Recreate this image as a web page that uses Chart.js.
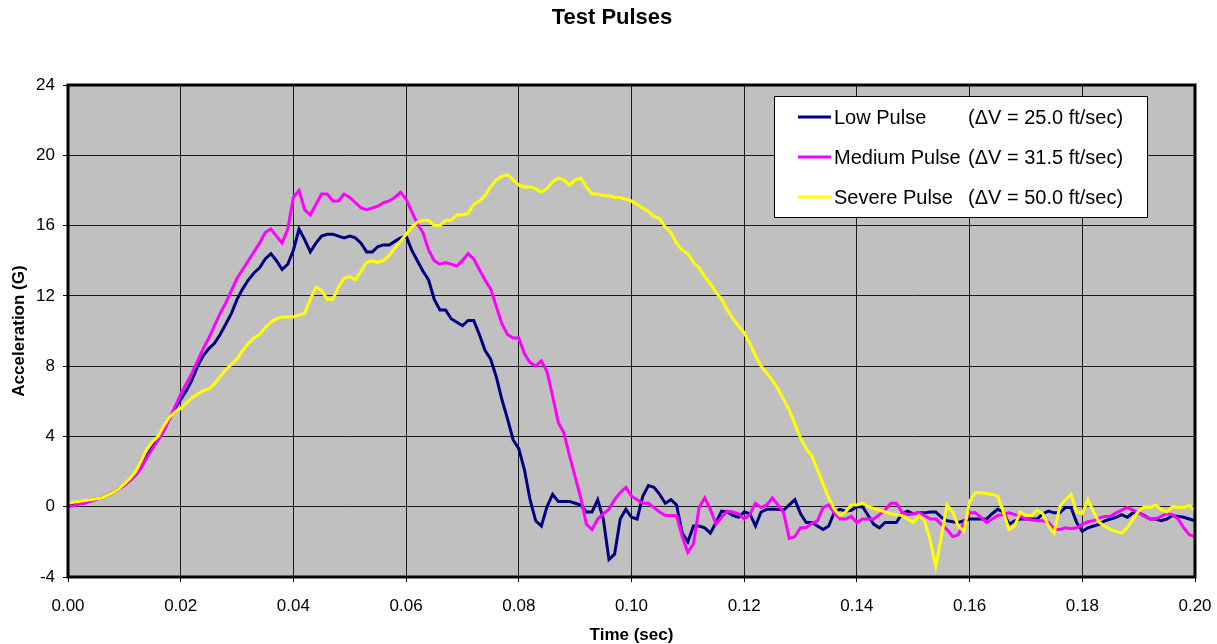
<!DOCTYPE html>
<html>
<head>
<meta charset="utf-8">
<script src="https://cdn.jsdelivr.net/npm/chart.js@4.4.1/dist/chart.umd.min.js"></script>
<style>
  html, body { margin: 0; padding: 0; background: #fff; }
  #wrap { width: 1217px; height: 644px; }
</style>
</head>
<body>
<div id="wrap"><canvas id="myChart" width="1217" height="644"></canvas></div>
<script>
// samples every 1 ms, 0.000 .. 0.200 sec
const timeStep = 0.001;

const lowPulse = [
  0.1, 0.15, 0.25, 0.3, 0.4, 0.45, 0.5, 0.65, 0.8, 1.0,
  1.25, 1.5, 1.8, 2.3, 2.9, 3.4, 3.9, 4.4, 5.0, 5.6,
  6.1, 6.6, 7.2, 8.0, 8.6, 9.0, 9.3, 9.8, 10.4, 11.0,
  11.8, 12.4, 12.9, 13.3, 13.6, 14.1, 14.4, 14.0, 13.5, 13.8,
  14.6, 15.8, 15.2, 14.5, 15.0, 15.4, 15.5, 15.5, 15.4, 15.3,
  15.4, 15.3, 15.0, 14.5, 14.5, 14.8, 14.9, 14.9, 15.1, 15.3,
  15.4, 14.6, 14.0, 13.4, 12.9, 11.8, 11.2, 11.2, 10.7, 10.5,
  10.3, 10.6, 10.6, 9.8, 8.9, 8.4, 7.4, 6.1, 5.0, 3.8,
  3.3, 2.1, 0.4, -0.8, -1.1, 0.0, 0.7, 0.3, 0.3, 0.3,
  0.2, 0.1, -0.3, -0.3, 0.4, -0.7, -3.0, -2.7, -0.7, -0.15,
  -0.6, -0.7, 0.6, 1.2, 1.1, 0.7, 0.2, 0.4, 0.1, -1.5,
  -2.0, -1.1, -1.1, -1.2, -1.5, -0.9, -0.25, -0.3, -0.5, -0.6,
  -0.3, -0.4, -1.1, -0.3, -0.15, -0.15, -0.15, -0.2, 0.1, 0.4,
  -0.4, -0.9, -0.9, -1.1, -1.3, -1.1, -0.3, -0.15, -0.25, -0.2,
  0.0, 0.0, -0.5, -1.0, -1.2, -0.9, -0.9, -0.9, -0.4, -0.25,
  -0.4, -0.35, -0.35, -0.3, -0.3, -0.6, -0.8, -0.85, -0.9, -0.8,
  -0.7, -0.7, -0.7, -0.7, -0.4, -0.15, -0.3, -1.0, -0.8, -0.7,
  -0.7, -0.7, -0.7, -0.4, -0.25, -0.35, -0.35, -0.05, -0.05, -0.9,
  -1.4, -1.2, -1.1, -1.0, -0.8, -0.7, -0.6, -0.45, -0.6, -0.35,
  -0.35, -0.5, -0.7, -0.7, -0.8, -0.7, -0.5, -0.55, -0.6, -0.7,
  -0.8
];

const mediumPulse = [
  0.0, 0.05, 0.15, 0.2, 0.3, 0.4, 0.5, 0.65, 0.8, 1.0,
  1.2, 1.5, 1.8, 2.2, 2.8, 3.3, 3.8, 4.3, 5.0, 5.7,
  6.4, 7.0, 7.6, 8.3, 9.0, 9.6, 10.3, 11.0, 11.6, 12.3,
  13.0, 13.5, 14.0, 14.5, 15.0, 15.6, 15.8, 15.4, 15.0, 15.8,
  17.6, 18.0, 16.9, 16.6, 17.2, 17.8, 17.8, 17.4, 17.4, 17.8,
  17.6, 17.3, 17.0, 16.9, 17.0, 17.1, 17.3, 17.4, 17.6, 17.9,
  17.5, 16.8, 16.1, 15.6, 14.6, 14.0, 13.8, 13.9, 13.8, 13.7,
  14.0, 14.4, 14.1, 13.5, 12.9, 12.4, 11.4, 10.4, 9.8, 9.6,
  9.6, 8.7, 8.2, 8.0, 8.3, 7.7, 6.3, 4.8, 4.2, 2.9,
  1.7, 0.5, -1.0, -1.3, -0.7, -0.4, -0.15, 0.4, 0.8, 1.1,
  0.6, 0.4, 0.2, 0.2, -0.05, -0.3, -0.5, -0.5, -0.5, -1.7,
  -2.6, -2.1, -0.05, 0.5, -0.15, -1.0, -0.6, -0.25, -0.3, -0.4,
  -0.7, -0.45, 0.2, -0.05, 0.1, 0.5, 0.1, -0.35, -1.8, -1.7,
  -1.2, -1.2, -0.95, -0.8, -0.05, 0.1, -0.35, -0.7, -0.7, -0.55,
  -0.9, -0.7, -0.7, -0.7, -0.45, -0.2, 0.2, 0.2, -0.3, -0.45,
  -0.4, -0.35, -0.5, -0.7, -0.7, -1.0, -1.3, -1.7, -1.6, -0.9,
  -0.35, -0.35, -0.6, -0.9, -0.7, -0.5, -0.45, -0.35, -0.45, -0.55,
  -0.7, -0.75, -0.8, -0.8, -0.9, -1.3, -1.3, -1.2, -1.25, -1.2,
  -1.0, -0.85, -0.8, -0.65, -0.55, -0.55, -0.35, -0.2, -0.05, -0.2,
  -0.35, -0.55, -0.7, -0.7, -0.55, -0.4, -0.45, -0.7, -1.2, -1.6,
  -1.7
];

const severePulse = [
  0.2, 0.25, 0.3, 0.35, 0.4, 0.45, 0.5, 0.65, 0.8, 1.0,
  1.3, 1.6, 2.0, 2.6, 3.3, 3.7, 4.0, 4.6, 5.1, 5.4,
  5.6, 5.9, 6.2, 6.4, 6.6, 6.7, 7.0, 7.4, 7.8, 8.1,
  8.4, 8.9, 9.3, 9.6, 9.8, 10.2, 10.5, 10.7, 10.8, 10.8,
  10.8, 10.9, 11.0, 11.8, 12.5, 12.3, 11.8, 11.8, 12.5, 13.0,
  13.1, 12.9, 13.4, 13.9, 14.0, 13.9, 14.0, 14.3, 14.7, 15.1,
  15.5, 15.9, 16.2, 16.3, 16.3, 16.0, 16.0, 16.3, 16.3, 16.6,
  16.6, 16.7, 17.2, 17.4, 17.7, 18.2, 18.6, 18.8, 18.9, 18.6,
  18.3, 18.2, 18.2, 18.1, 17.9, 18.1, 18.5, 18.7, 18.6, 18.3,
  18.6, 18.7, 18.2, 17.8, 17.8, 17.7, 17.7, 17.6, 17.6, 17.5,
  17.4, 17.2, 17.0, 16.8, 16.5, 16.4, 15.9, 15.6, 15.0, 14.6,
  14.4, 13.9, 13.6, 13.1, 12.7, 12.2, 11.8, 11.2, 10.7, 10.3,
  9.9, 9.3, 8.6, 8.0, 7.6, 7.2, 6.7, 6.1, 5.5, 4.7,
  3.9, 3.3, 2.9, 2.1, 1.3, 0.5, -0.15, -0.5, -0.3, 0.1,
  0.1, 0.2, 0.0, -0.1, -0.2, -0.3, -0.4, -0.45, -0.5, -0.7,
  -0.9, -0.5, -0.8, -1.9, -3.4, -1.7, 0.1, -0.3, -1.1, -1.4,
  0.3, 0.8, 0.8, 0.75, 0.7, 0.6, -0.3, -1.3, -1.1, -0.3,
  -0.5, -0.5, -0.2, -0.4, -1.1, -1.5, 0.0, 0.4, 0.7, -0.3,
  -0.4, 0.4, -0.3, -0.9, -1.1, -1.3, -1.4, -1.5, -1.2, -0.7,
  -0.25, 0.0, -0.05, 0.1, -0.15, -0.3, 0.0, -0.05, -0.05, 0.1,
  -0.25
];

const seriesNames = ["Low Pulse", "Medium Pulse", "Severe Pulse"];
const seriesDeltaV = ["(\u0394V = 25.0 ft/sec)", "(\u0394V = 31.5 ft/sec)", "(\u0394V = 50.0 ft/sec)"];
const seriesColors = ["#000080", "#FF00FF", "#FFFF00"];

const FONT = "'Liberation Sans', Arial, Helvetica, sans-serif";

function toPoints(values) {
  return values.map((v, i) => ({ x: +(i * timeStep).toFixed(3), y: v }));
}

// grey plot area, thick frame, title and the boxed legend
const plotDecor = {
  id: "plotDecor",
  beforeDraw(chart) {
    const { ctx, chartArea: a } = chart;
    ctx.save();
    ctx.fillStyle = "#C0C0C0";
    ctx.fillRect(a.left, a.top, a.right - a.left, a.bottom - a.top);
    ctx.restore();
  },
  afterDraw(chart) {
    const { ctx, chartArea: a } = chart;
    ctx.save();
    ctx.strokeStyle = "#000";
    ctx.lineWidth = 3;
    ctx.strokeRect(a.left, a.top, a.right - a.left, a.bottom - a.top);

    ctx.fillStyle = "#000";
    ctx.font = "bold 22px " + FONT;
    ctx.textAlign = "center";
    ctx.textBaseline = "middle";
    ctx.fillText("Test Pulses", 612, 18);

    // legend box
    const bx = 774, by = 96, bw = 373, bh = 121;
    ctx.fillStyle = "#fff";
    ctx.fillRect(bx, by, bw, bh);
    ctx.strokeStyle = "#000";
    ctx.lineWidth = 1;
    ctx.strokeRect(bx + 0.5, by + 0.5, bw, bh);
    ctx.font = "20px " + FONT;
    ctx.textAlign = "left";
    seriesNames.forEach((name, i) => {
      const y = 117 + i * 40;
      ctx.strokeStyle = seriesColors[i];
      ctx.lineWidth = 3;
      ctx.beginPath();
      ctx.moveTo(798, y);
      ctx.lineTo(831, y);
      ctx.stroke();
      ctx.fillStyle = "#000";
      ctx.fillText(name, 834, y + 1);
      ctx.fillText(seriesDeltaV[i], 968, y + 1);
    });
    ctx.restore();
  }
};

const allSeries = [lowPulse, mediumPulse, severePulse];

new Chart(document.getElementById("myChart").getContext("2d"), {
  type: "line",
  data: {
    datasets: allSeries.map((vals, i) => ({
      label: seriesNames[i] + " " + seriesDeltaV[i],
      data: toPoints(vals),
      borderColor: seriesColors[i],
      backgroundColor: seriesColors[i],
      borderWidth: 3,
      pointRadius: 0,
      tension: 0,
      fill: false,
      order: 3 - i
    }))
  },
  options: {
    responsive: false,
    animation: false,
    events: [],
    layout: { padding: { top: 85, right: 22, bottom: 0, left: 0 } },
    plugins: {
      legend: { display: false },
      title: { display: false },
      tooltip: { enabled: false }
    },
    scales: {
      x: {
        type: "linear",
        min: 0,
        max: 0.2,
        afterFit(scale) {
          scale.height = 67;
          scale.paddingLeft = 0;
          scale.paddingRight = 0;
        },
        ticks: {
          stepSize: 0.02,
          color: "#000",
          padding: 14,
          maxRotation: 0,
          font: { family: FONT, size: 17 },
          callback: (v) => v.toFixed(2)
        },
        grid: { color: "#1a1a1a", lineWidth: 1, tickLength: 5, tickColor: "#000" },
        border: { display: false },
        title: {
          display: true,
          text: "Time (sec)",
          color: "#000",
          padding: 0,
          font: { family: FONT, size: 17, weight: "bold", lineHeight: 1 }
        }
      },
      y: {
        min: -4,
        max: 24,
        afterFit(scale) { scale.width = 68; },
        ticks: {
          stepSize: 4,
          color: "#000",
          padding: 8,
          font: { family: FONT, size: 17 }
        },
        grid: { color: "#1a1a1a", lineWidth: 1, tickLength: 5, tickColor: "#000" },
        border: { display: false },
        title: {
          display: true,
          text: "Acceleration (G)",
          color: "#000",
          padding: { top: 9, bottom: 0 },
          font: { family: FONT, size: 17, weight: "bold" }
        }
      }
    }
  },
  plugins: [plotDecor]
});
</script>
</body>
</html>
